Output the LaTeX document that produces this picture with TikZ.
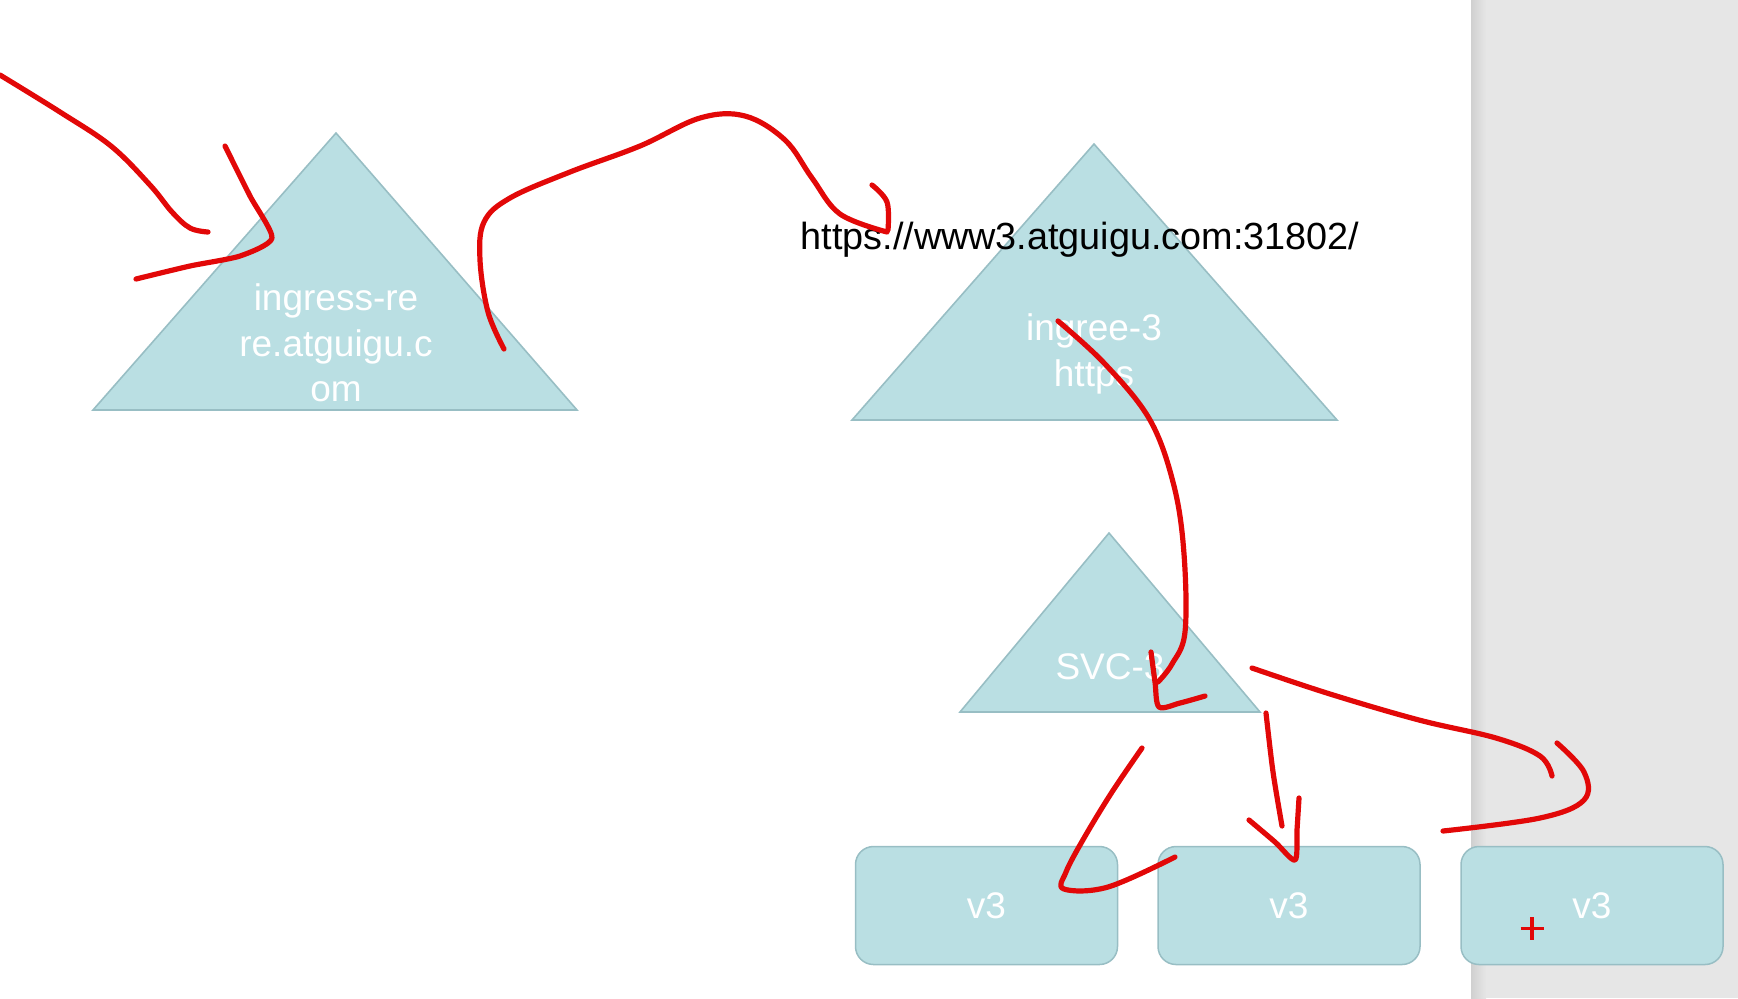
\documentclass[tikz,border=0pt]{standalone}
\usepackage{fontspec}
\setmainfont{Liberation Sans}
\definecolor{tealfill}{RGB}{186,223,227}
\definecolor{tealedge}{RGB}{152,190,196}
\definecolor{penred}{RGB}{226,8,8}
\definecolor{panelgray}{RGB}{230,230,230}
\definecolor{paneledge}{RGB}{208,208,208}
\tikzset{every picture/.style={line width=0.75pt}}
\tikzset{
  tri/.style={fill=tealfill, draw=tealedge, line width=0.8pt},
  tritext/.style={text=white, align=center, inner sep=0.75pt, font=\fontsize{18.5}{22.8}\selectfont},
  vbox/.style={fill=tealfill, draw=tealedge, rounded corners=9pt, minimum width=131pt, minimum height=59pt, text=white, inner sep=0.75pt, font=\fontsize{18.5}{22}\selectfont},
  ink/.style={draw=penred, line width=2.6pt, line cap=round, line join=round}
}

\begin{document}
\begin{tikzpicture}[x=0.5pt,y=0.5pt,yscale=-1,xscale=1]
\useasboundingbox (0,0) rectangle (1738,998);

%Side panel
\fill [panelgray] (1471,0) rectangle (1738,998) ;
\shade [left color=paneledge, right color=panelgray] (1471,0) rectangle (1486,998) ;

%Triangles
\draw [tri] (336,133) -- (577,410) -- (93,410) -- cycle ;
\draw [tri] (1094,144) -- (1337,420) -- (852,420) -- cycle ;
\draw [tri] (1109,533) -- (1260,712) -- (960,712) -- cycle ;

% Text Node
\node (ingRe) [tritext] at (336,343) {ingress-re\\re.atguigu.c\\om};
% Text Node
\node (ingThree) [tritext] at (1094,354) {ingree-3\\https};
% Text Node
\node (svcThree) [tritext] at (1110,667) {SVC-3};
% Text Node
\node (url) [inner sep=0.75pt, font=\fontsize{18.9}{22}\selectfont] at (1080,240) {https://www3.atguigu.com:31802/};

%Pods
\node (podA) [vbox] at (986.5,905.5) {v3};
\node (podB) [vbox] at (1289,905.5) {v3};
\node (podC) [vbox] at (1592,905.5) {v3};

%Hand strokes
\draw [ink] plot [smooth, tension=0.6] coordinates {(0,75) (60,112) (111,146) (150,185) (172,212) (190,228) (208,232)} ;
\draw [ink] plot [smooth, tension=0.4] coordinates {(225,146) (250,196) (272,238) (240,256) (190,266) (136,279)} ;
\draw [ink] plot [smooth, tension=0.6] coordinates {(504,349) (488,312) (480,260) (484,222) (510,198) (570,172) (640,146) (700,118) (745,116) (785,140) (812,178) (840,214) (887,232)} ;
\draw [ink] plot [smooth, tension=0.6] coordinates {(872,185) (887,202) (888,230)} ;
\draw [ink] plot [smooth, tension=0.6] coordinates {(1058,321) (1105,364) (1150,420) (1174,486) (1184,554) (1185,632) (1172,664) (1158,682)} ;
\draw [ink] plot [smooth, tension=0.5] coordinates {(1151,652) (1155,682) (1159,707) (1180,703) (1205,696)} ;
\draw [ink] plot [smooth, tension=0.6] coordinates {(1142,748) (1112,792) (1084,838) (1066,872) (1064,889) (1108,887) (1175,857)} ;
\draw [ink] plot [smooth, tension=0.5] coordinates {(1266,713) (1273,772) (1282,826)} ;
\draw [ink] plot [smooth, tension=0.5] coordinates {(1249,820) (1275,842) (1295,860) (1297,830) (1299,798)} ;
\draw [ink] plot [smooth, tension=0.6] coordinates {(1252,668) (1330,694) (1419,720) (1496,738) (1540,756) (1552,776)} ;
\draw [ink] plot [smooth, tension=0.6] coordinates {(1557,743) (1584,772) (1584,800) (1540,818) (1443,831)} ;

%Red cross
\draw [penred, line width=1.6pt] (1532,917) -- (1532,940) (1520.5,928.5) -- (1543.5,928.5) ;
\end{tikzpicture}
\end{document}
